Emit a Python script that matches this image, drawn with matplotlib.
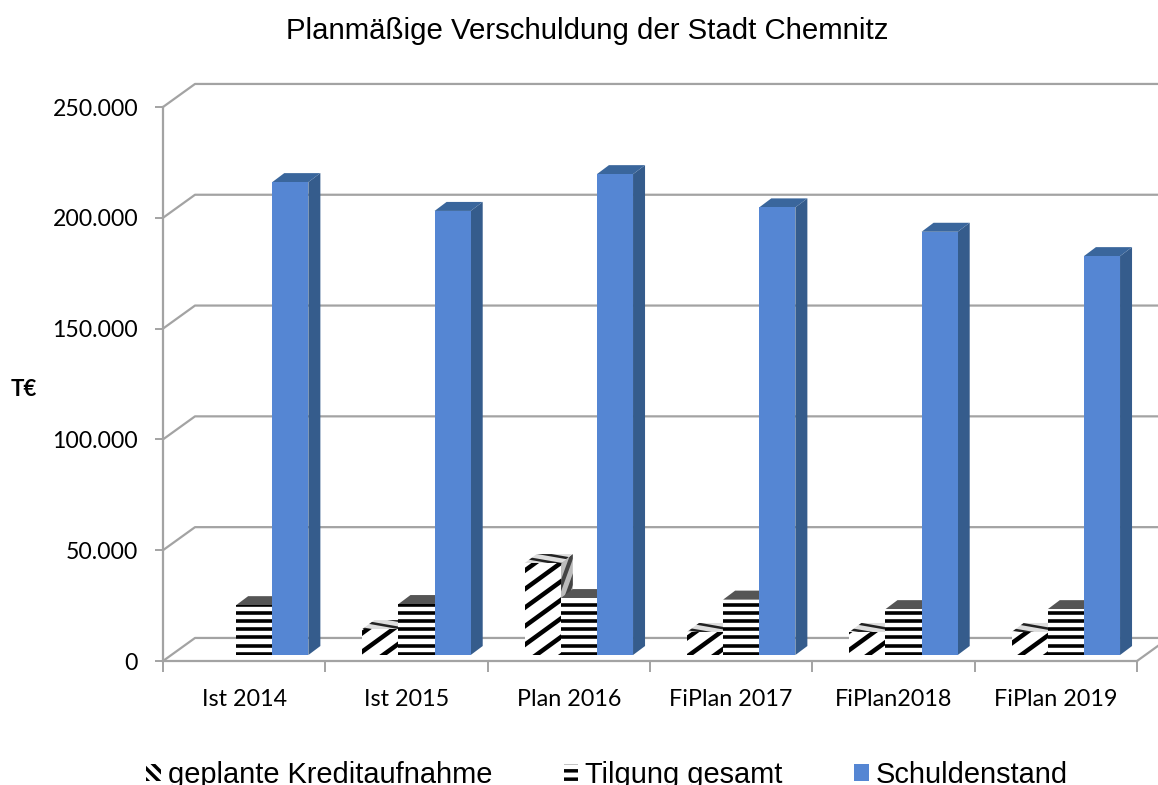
import numpy as np
import matplotlib
matplotlib.use('Agg')
import matplotlib.pyplot as plt
from matplotlib.patches import Polygon, Patch
from matplotlib.collections import LineCollection
from matplotlib.transforms import IdentityTransform

categories = ['Ist 2014', 'Ist 2015', 'Plan 2016', 'FiPlan 2017', 'FiPlan2018', 'FiPlan 2019']
kredit = [0, 11700, 41500, 10400, 10400, 10400]
tilgung = [22500, 23000, 25700, 25000, 20700, 20700]
schulden = [213400, 200400, 217000, 202000, 191000, 180000]
y_ticks = [0, 50000, 100000, 150000, 200000, 250000]
y_labels = ['0', '50.000', '100.000', '150.000', '200.000', '250.000']

grey = '#A3A3A3'
wall_dx, wall_dy = 32 / 162.3, 10400
bar_dx, bar_dy = 12 / 162.3, 4060
base = 2700
bar_w = 0.2225
bar_start = 0.228

plt.rcParams['font.family'] = ['Liberation Sans', 'DejaVu Sans']

fig = plt.figure(figsize=(11.58, 7.85), dpi=100)
ax = fig.add_axes([163 / 1158, 1 - 661 / 785, 974 / 1158, 554 / 785])
ax.set_xlim(0, 6)
ax.set_ylim(0, 250000)
ax.patch.set_visible(False)


def stripes(pts, angle, period, lw, color='black', bg='white'):
    # stripes in pixel space, clipped to the polygon
    poly = Polygon(pts, closed=True, fc=bg, ec='none', clip_on=False, zorder=3)
    ax.add_patch(poly)
    px = ax.transData.transform(pts)
    c = px.mean(axis=0)
    r = np.abs(px - c).max() * 2 + 20
    a = np.radians(angle)
    d = np.array([np.cos(a), np.sin(a)])
    n = np.array([-d[1], d[0]])
    segs = []
    for k in np.arange(-r // period, r // period + 1):
        m = c + n * (k * period - (c @ n) % period)
        segs.append([m - d * r, m + d * r])
    lc = LineCollection(segs, colors=color, linewidths=lw * 0.72, zorder=3)
    ax.add_collection(lc, autolim=False)
    lc.set_transform(IdentityTransform())
    lc.set_clip_path(poly)


def faces(x, v):
    y0 = base
    y1 = base + v
    front = [(x, y0), (x + bar_w, y0), (x + bar_w, y1), (x, y1)]
    side = [(x + bar_w, y0), (x + bar_w + bar_dx, y0 + bar_dy), (x + bar_w + bar_dx, y1 + bar_dy), (x + bar_w, y1)]
    top = [(x, y1), (x + bar_w, y1), (x + bar_w + bar_dx, y1 + bar_dy), (x + bar_dx, y1 + bar_dy)]
    return front, side, top


# back wall and floor
for t in y_ticks:
    ax.plot([0, wall_dx, 6.2], [t, t + wall_dy, t + wall_dy], color=grey, lw=1.6, clip_on=False, zorder=1)
ax.plot([6, 6 + wall_dx], [0, wall_dy], color=grey, lw=1.6, clip_on=False, zorder=1)

for i in range(len(categories)):
    x = i + bar_start
    if kredit[i] > 0:
        front, side, top = faces(x, kredit[i])
        stripes(side, 70, 9, 4, color='#444444', bg='#BBBBBB')
        stripes(top, 170, 7, 2.5, color='#222222', bg='#DDDDDD')
        stripes(front, 36, 15, 4.5)
    x = i + bar_start + bar_w
    front, side, top = faces(x, tilgung[i])
    ax.add_patch(Polygon(side, fc='#333333', ec='none', clip_on=False, zorder=3))
    ax.add_patch(Polygon(top, fc='#555555', ec='none', clip_on=False, zorder=3))
    stripes(front, 0, 8.2, 3.6)
    x = i + bar_start + 2 * bar_w
    front, side, top = faces(x, schulden[i])
    ax.add_patch(Polygon(side, fc='#355C8C', ec='none', clip_on=False, zorder=3))
    ax.add_patch(Polygon(top, fc='#3A669C', ec='none', clip_on=False, zorder=3))
    ax.add_patch(Polygon(front, fc='#5586D3', ec='none', clip_on=False, zorder=3))

for s in ['top', 'right']:
    ax.spines[s].set_visible(False)
for s in ['left', 'bottom']:
    ax.spines[s].set_color(grey)
    ax.spines[s].set_linewidth(1.6)

ax.set_yticks(y_ticks, y_labels, fontsize=16.6, color='black', family=['Lato', 'DejaVu Sans'])
ax.tick_params(axis='y', length=6, width=1.4, color=grey, pad=12)
ax.set_xticks(range(7), [''] * 7)
ax.tick_params(axis='x', which='major', length=8, width=1.4, color=grey)
ax.set_xticks(np.arange(6) + 0.5, categories, minor=True, fontsize=16.8, family=['Lato', 'DejaVu Sans'])
ax.tick_params(axis='x', which='minor', length=0, pad=20.5)

fig.text(587 / 1158, 1 - 31 / 785, 'Planmäßige Verschuldung der Stadt Chemnitz', fontsize=21.2, ha='center', va='center')
fig.text(24 / 1158, 1 - 389 / 785, 'T€', fontsize=16, fontweight='bold', ha='center', va='center',
         family=['Lato', 'DejaVu Sans'])

plt.rcParams['hatch.linewidth'] = 2.5
handles = [Patch(fc='white', ec='black', lw=0, hatch='\\\\\\'), Patch(fc='white', ec='black', lw=0, hatch='--'),
           Patch(fc='#5586D3', ec='none')]
leg = fig.legend(handles, ['geplante Kreditaufnahme', 'Tilgung gesamt', 'Schuldenstand'], ncol=3,
                 loc='lower left', bbox_to_anchor=(146.5 / 1158, -4 / 785), frameon=False, fontsize=20.9,
                 handlelength=0.5, handleheight=0.5, handletextpad=0.24, columnspacing=2.46, borderpad=0, borderaxespad=0)

fig.savefig('out.png', dpi=100)
